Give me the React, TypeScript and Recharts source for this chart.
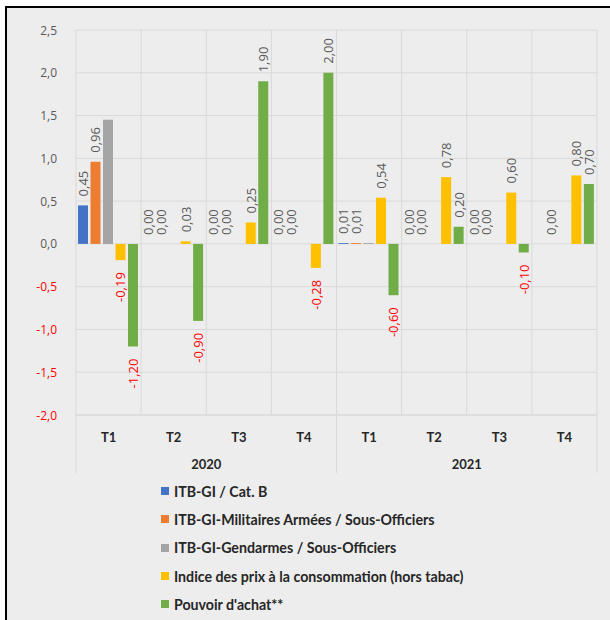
import React from 'react';
import { BarChart, Bar, XAxis, YAxis, CartesianGrid, Legend, LabelList } from 'recharts';

const quarters = ['T1', 'T2', 'T3', 'T4', 'T1', 'T2', 'T3', 'T4'];
const quarterYears = ['2020', '2020', '2020', '2020', '2021', '2021', '2021', '2021'];
const seriesNames = [
  'ITB-GI / Cat. B',
  'ITB-GI-Militaires Armées / Sous-Officiers',
  'ITB-GI-Gendarmes / Sous-Officiers',
  'Indice des prix à la consommation (hors tabac)',
  "Pouvoir d'achat**",
];
const seriesColors = ['#4472c4', '#ed7d31', '#a5a5a5', '#ffc000', '#70ad47'];
const catB = [0.45, 0.0, 0.0, 0.0, 0.01, 0.0, 0.0, null];
const militaires = [0.96, 0.0, 0.0, 0.0, 0.01, 0.0, 0.0, 0.0];
const gendarmes = [1.45, 0.0, 0.0, 0.0, 0.01, 0.0, 0.0, 0.0];
const ipc = [-0.19, 0.03, 0.25, -0.28, 0.54, 0.78, 0.6, 0.8];
const pouvoir = [-1.2, -0.9, 1.9, 2.0, -0.6, 0.2, -0.1, 0.7];
const yTicks = [-2, -1.5, -1, -0.5, 0, 0.5, 1, 1.5, 2, 2.5];

const data = quarters.map((q, i) => ({
  q,
  year: quarterYears[i],
  catB: catB[i],
  militaires: militaires[i],
  gendarmes: gendarmes[i],
  ipc: ipc[i],
  pouvoir: pouvoir[i],
}));

const GRID = '#d9d9d9';
const GREY_TXT = '#595959';
const RED = '#ff0000';

const YTick = (props: any) => {
  const { x, y, payload } = props;
  const v = Number(payload.value);
  return (
    <text x={x} y={y} textAnchor="end" dominantBaseline="central" fill={v < 0 ? RED : GREY_TXT}
      fontSize={12} fontFamily="Open Sans">
      {v.toFixed(1).replace('.', ',')}
    </text>
  );
};

const QTick = (props: any) => {
  const { x, y, payload } = props;
  return (
    <text x={x} y={y} textAnchor="middle" dominantBaseline="central" fontWeight="bold" fontSize={13}
      fontFamily="Lato" fill="#262626">
      {payload.value}
    </text>
  );
};

const YearTick = (props: any) => {
  const { x, y, payload, visibleTicksCount } = props;
  const half = payload.offset || 0;
  const last = payload.index === (visibleTicksCount || 2) - 1;
  return (
    <g>
      <line x1={x - half} x2={x - half} y1={y - 49} y2={y + 9} stroke={GRID} strokeWidth={1} />
      {last && <line x1={x + half} x2={x + half} y1={y - 49} y2={y + 9} stroke={GRID} strokeWidth={1} />}
      <text x={x} y={y} textAnchor="middle" dominantBaseline="central" fontWeight="bold" fontSize={13}
        fontFamily="Lato" fill="#262626">
        {payload.value}
      </text>
    </g>
  );
};

const renderLabel = (props: any) => {
  const vb = props.viewBox && props.viewBox.width != null ? props.viewBox : props;
  const { x, y, width, height } = vb;
  const value = props.value;
  if (value == null || x == null) return null;
  const v = Number(value);
  const cx = x + width / 2;
  const txt = v.toFixed(2).replace('.', ',');
  if (v >= 0) {
    const top = Math.min(y, y + height) - 9;
    return (
      <text x={cx} y={top} transform={`rotate(-90 ${cx} ${top})`} textAnchor="start" dominantBaseline="central"
        fontSize={13} fontFamily="Open Sans" fill={GREY_TXT}>
        {txt}
      </text>
    );
  }
  const bottom = Math.max(y, y + height) + 12;
  return (
    <text x={cx} y={bottom} transform={`rotate(-90 ${cx} ${bottom})`} textAnchor="end" dominantBaseline="central"
      fontSize={13} fontFamily="Open Sans" fill={RED}>
      {txt}
    </text>
  );
};

const renderLegend = () => (
  <div style={{ fontFamily: 'Lato', fontWeight: 'bold', fontSize: 14.2, color: '#262626' }}>
    {seriesNames.map((name, i) => (
      <div key={i} style={{ height: 28.3, display: 'flex', alignItems: 'center', whiteSpace: 'nowrap' }}>
        <span style={{ display: 'inline-block', width: 8, height: 8, background: seriesColors[i], marginRight: 5 }} />
        <span>{name}</span>
      </div>
    ))}
  </div>
);

export default function App() {
  return (
    <div style={{ position: 'absolute', left: 0, top: 0, width: 610, height: 620, background: '#fff', overflow: 'hidden' }}>
      <div style={{ position: 'absolute', left: 5, top: 6, right: 0, bottom: 0, borderTop: '2px solid #000', borderLeft: '2px solid #000', background: '#ededed' }} />
      <div style={{ position: 'absolute', left: 0, top: 0 }}>
        <BarChart width={610} height={620} data={data} margin={{ top: 30, right: 13, left: 0, bottom: 131 }}
          barCategoryGap={2} barGap={2.5}>
          <CartesianGrid stroke={GRID} strokeWidth={1}
            verticalCoordinatesGenerator={({ offset }: any) =>
              Array.from({ length: quarters.length + 1 }, (_, i) => offset.left + (i * offset.width) / quarters.length)} />
          <XAxis dataKey="q" height={44} tickSize={0} tickMargin={22} tickLine={false} axisLine={{ stroke: GRID }}
            interval={0} tick={<QTick />} />
          <XAxis xAxisId="year" dataKey="year" allowDuplicatedCategory={false} height={30}
            tickSize={0} tickMargin={5} tickLine={false} axisLine={false} interval={0} tick={<YearTick />} />
          <YAxis domain={[-2, 2.5]} ticks={yTicks} width={76} tickSize={0} tickMargin={19} tickLine={false}
            axisLine={false} interval={0} tick={<YTick />} />
          <Legend layout="vertical" align="center" verticalAlign="middle" content={renderLegend}
            wrapperStyle={{ left: 161, top: 477, width: 430 }} />
          <Bar dataKey="catB" name={seriesNames[0]} fill={seriesColors[0]} minPointSize={0.01} isAnimationActive={false}>
            <LabelList dataKey="catB" content={renderLabel} />
          </Bar>
          <Bar dataKey="militaires" name={seriesNames[1]} fill={seriesColors[1]} minPointSize={0.01} isAnimationActive={false}>
            <LabelList dataKey="militaires" content={renderLabel} />
          </Bar>
          <Bar dataKey="gendarmes" name={seriesNames[2]} fill={seriesColors[2]} isAnimationActive={false} />
          <Bar dataKey="ipc" name={seriesNames[3]} fill={seriesColors[3]} minPointSize={0.01} isAnimationActive={false}>
            <LabelList dataKey="ipc" content={renderLabel} />
          </Bar>
          <Bar dataKey="pouvoir" name={seriesNames[4]} fill={seriesColors[4]} minPointSize={0.01} isAnimationActive={false}>
            <LabelList dataKey="pouvoir" content={renderLabel} />
          </Bar>
        </BarChart>
      </div>
    </div>
  );
}
